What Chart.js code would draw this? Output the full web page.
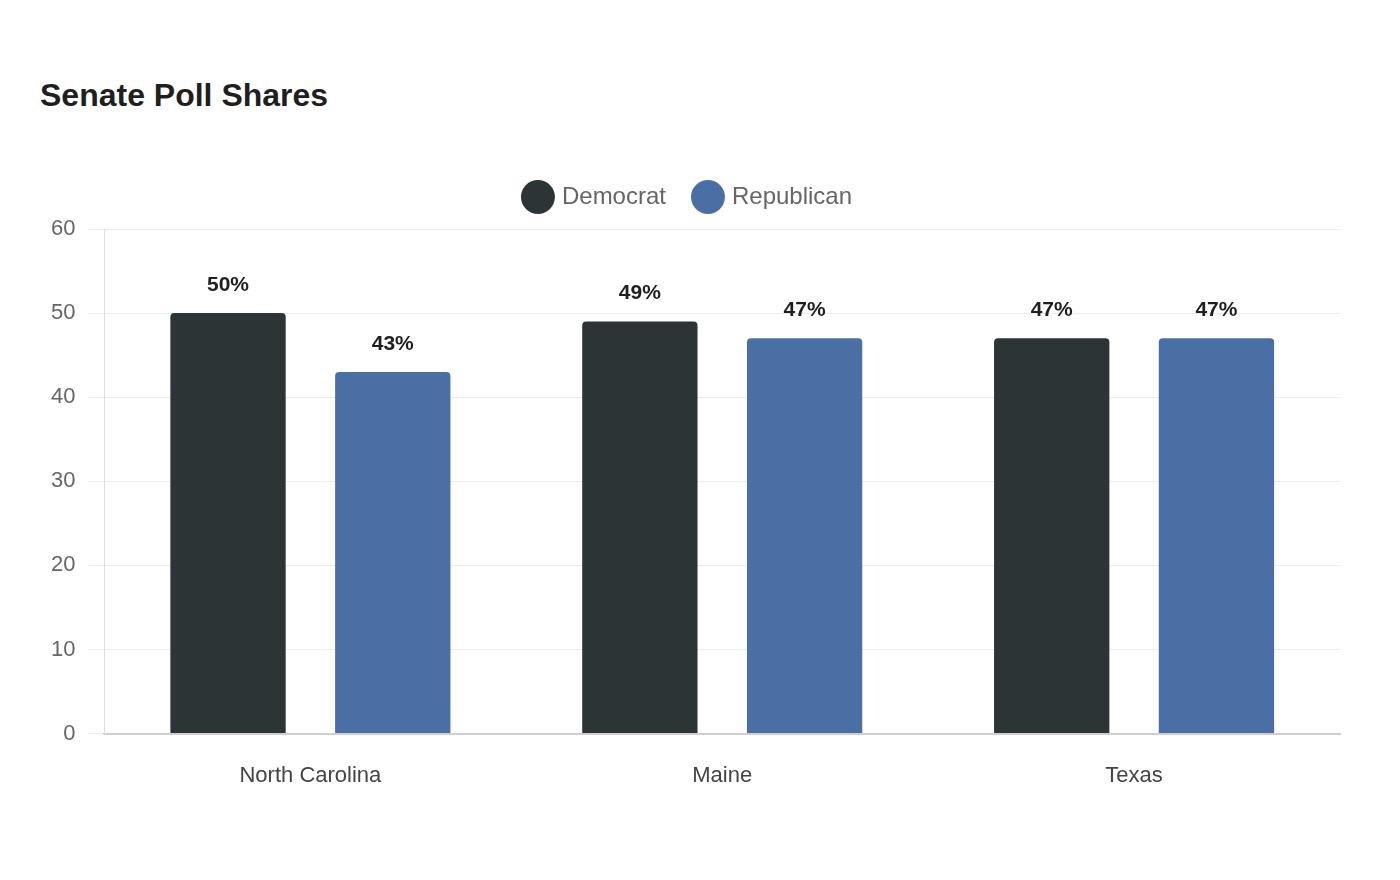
<!DOCTYPE html>
<html>
<head>
<meta charset="utf-8">
<script src="https://cdn.jsdelivr.net/npm/chart.js@4/dist/chart.umd.min.js"></script>
<style>
  html, body { margin: 0; padding: 0; background: #fff; }
  #wrap { position: relative; width: 1400px; height: 880px; }
  #title {
    position: absolute; left: 40px; top: 77px; margin: 0;
    font: bold 32px "Liberation Sans", Arial, sans-serif; color: #1f1f1f;
  }
  canvas { position: absolute; left: 0; top: 0; }
</style>
</head>
<body>
<div id="wrap">
  <h1 id="title">Senate Poll Shares</h1>
  <canvas id="chart" width="1400" height="880"></canvas>
</div>
<script>
// Senate poll shares by state
const states = ['North Carolina', 'Maine', 'Texas'];
const democrat = [50, 49, 47];
const republican = [43, 47, 47];
const yTicks = [0, 10, 20, 30, 40, 50, 60];

const FONT = '"Liberation Sans", Arial, sans-serif';

// draws the "50%" style labels above each bar
const barLabels = {
    id: 'barLabels',
    afterDatasetsDraw(chart) {
        const ctx = chart.ctx;
        ctx.save();
        ctx.font = 'bold 21px ' + FONT;
        ctx.fillStyle = '#1f1f1f';
        ctx.textAlign = 'center';
        ctx.textBaseline = 'middle';
        chart.data.datasets.forEach((ds, i) => {
            chart.getDatasetMeta(i).data.forEach((bar, j) => {
                ctx.fillText(ds.data[j] + '%', bar.x, bar.y - 28);
            });
        });
        ctx.restore();
    }
};

// a bit more room under the legend
const legendGap = {
    id: 'legendGap',
    beforeLayout(chart) {
        const lg = chart.legend;
        if (lg && !lg._gapPatched) {
            const fit = lg.fit.bind(lg);
            lg.fit = function () { fit(); this.height += 10; };
            lg._gapPatched = true;
        }
    }
};

new Chart(document.getElementById('chart'), {
    type: 'bar',
    data: {
        labels: states,
        datasets: [
            {
                label: 'Democrat',
                data: democrat,
                backgroundColor: '#2d3436',
                borderRadius: { topLeft: 4, topRight: 4 },
                borderSkipped: 'bottom'
            },
            {
                label: 'Republican',
                data: republican,
                backgroundColor: '#4a6fa5',
                borderRadius: { topLeft: 4, topRight: 4 },
                borderSkipped: 'bottom'
            }
        ]
    },
    options: {
        responsive: false,
        animation: false,
        categoryPercentage: 0.8,
        barPercentage: 0.7,
        layout: { padding: { left: 38, right: 60, top: 155, bottom: 70 } },
        plugins: {
            tooltip: { enabled: false },
            title: { display: false },
            legend: {
                position: 'top',
                labels: {
                    usePointStyle: true,
                    pointStyle: 'circle',
                    padding: 30,
                    color: '#666',
                    font: { family: FONT, size: 24 }
                }
            }
        },
        scales: {
            x: {
                grid: { display: false },
                border: { color: '#cfcfcf', width: 2 },
                ticks: { color: '#444', padding: 21, font: { family: FONT, size: 22 } }
            },
            y: {
                min: 0,
                max: 60,
                afterBuildTicks(scale) {
                    scale.ticks = yTicks.map(v => ({ value: v }));
                },
                grid: { color: '#ebebeb', tickLength: 16 },
                border: { color: '#dddddd' },
                ticks: { color: '#666', padding: 13, font: { family: FONT, size: 22 } }
            }
        }
    },
    plugins: [barLabels, legendGap]
});
</script>
</body>
</html>
